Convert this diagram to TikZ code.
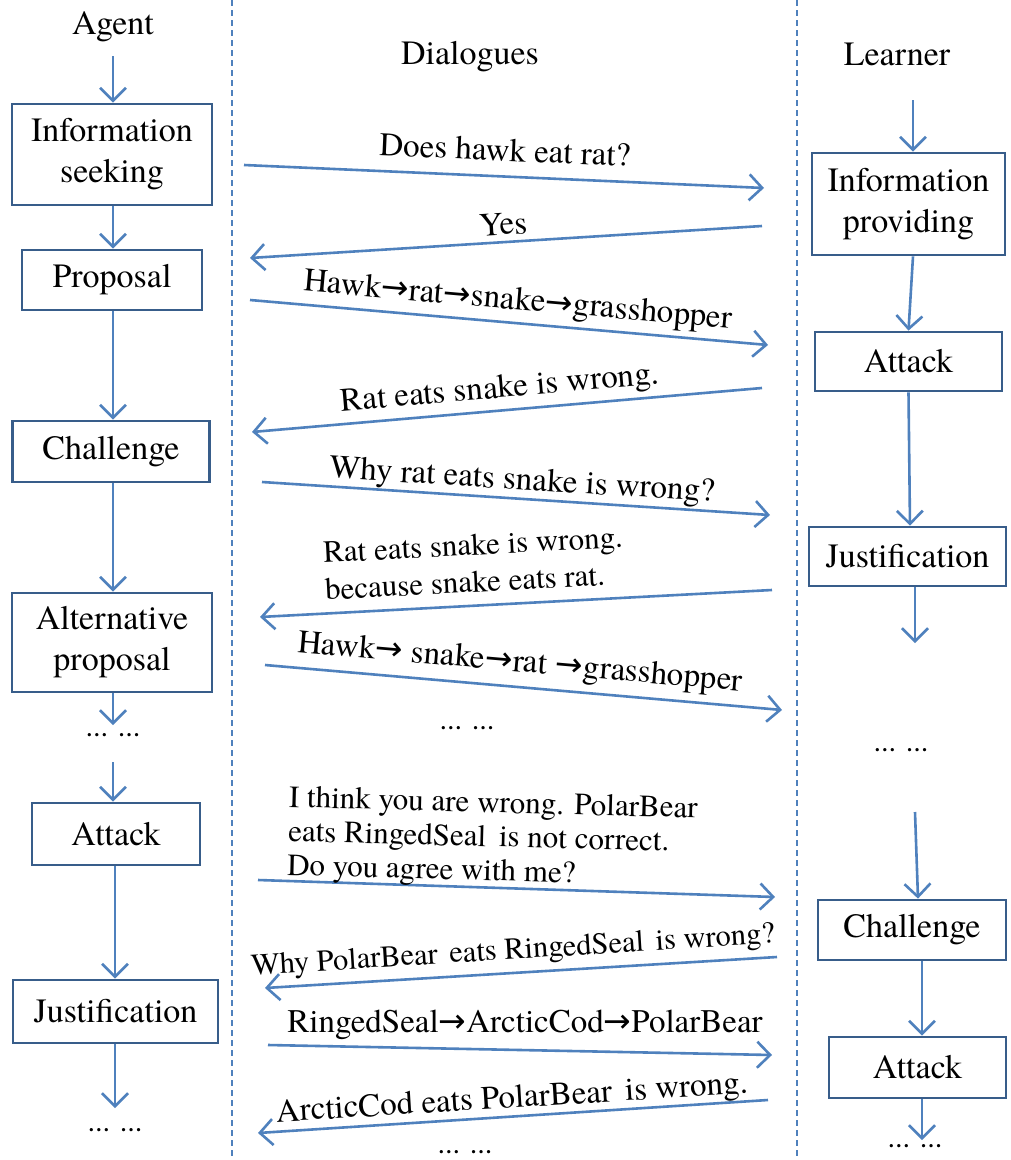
\documentclass[tikz,border=0pt]{standalone}
\usepackage{fontspec}
\setmainfont{TeX Gyre Termes}
\newfontfamily\glyphfont{DejaVu Sans}
\usetikzlibrary{arrows.meta}
\definecolor{flow}{RGB}{79,129,189}
\definecolor{frame}{RGB}{56,93,138}
\newcommand{\nextto}{{\glyphfont\char"2192}}
\begin{document}
\begin{tikzpicture}[x=1pt,y=-1pt,
  stage/.style={draw=frame, line width=2.8pt, fill=white, inner sep=0pt,
    align=center, font=\fontsize{34}{41}\selectfont},
  head/.style={font=\fontsize{34}{38}\selectfont, inner sep=0pt},
  talk/.style={font=\fontsize{33}{36}\selectfont, inner sep=0pt},
  flowarrow/.style={draw=flow, line width=2.6pt,
    -{Straight Barb[length=13pt,width=26pt,line width=2.6pt]}},
  lane/.style={draw=flow, line width=1.2pt, dash pattern=on 6pt off 4pt},
  dots/.style={font=\fontsize{30}{35}\selectfont, inner sep=0pt}]

\useasboundingbox[fill=white] (0,0) rectangle (1010,1160);

% lane separators
\draw[lane] (232,0) -- (232,1160);
\draw[lane] (797,0) -- (797,1160);

% column headings
\node[head] (agent) at (113,27) {Agent};
\node[head] (dial) at (470,57) {Dialogues};
\node[head] (learner) at (897,54) {Learner};

% ---------------- agent column ----------------
\node[stage, minimum width=200, minimum height=101] (is) at (112,154.5) {Information\\seeking};
\node[stage, minimum width=180, minimum height=60] (pr) at (112,280) {Proposal};
\node[stage, minimum width=197, minimum height=61] (cl) at (111,451.5) {Challenge};
\node[stage, minimum width=200, minimum height=99] (alt) at (112,642.5) {Alternative\\proposal};
\node[dots] (ad1) at (113,735) {... ...};
\node[stage, minimum width=168, minimum height=62] (aat) at (116,834) {Attack};
\node[stage, minimum width=205, minimum height=63] (aju) at (115.5,1011.5) {Justification};
\node[dots] (ad2) at (115,1130) {... ...};

\coordinate (a0) at (113,56);
\coordinate (a1) at (113,725);
\coordinate (a2) at (113,762);
\coordinate (a3) at (115,1108);

\draw[flowarrow] (a0) -- (a0 |- is.north);
\draw[flowarrow] (is.south -| a0) -- (a0 |- pr.north);
\draw[flowarrow] (pr.south -| a0) -- (a0 |- cl.north);
\draw[flowarrow] (cl.south -| a0) -- (a0 |- alt.north);
\draw[flowarrow] (alt.south -| a0) -- (a1);
\draw[flowarrow] (a2) -- (a2 |- aat.north);
\draw[flowarrow] (aat.south -| a3) -- (a3 |- aju.north);
\draw[flowarrow] (aju.south -| a3) -- (a3);

% ---------------- learner column ----------------
\node[stage, minimum width=193, minimum height=102] (ip) at (908.5,204) {Information\\providing};
\node[stage, minimum width=187, minimum height=59] (lat1) at (908.5,361.5) {Attack};
\node[stage, minimum width=197, minimum height=59] (lju) at (907.5,556.5) {Justification};
\node[dots] (ld1) at (901,750) {... ...};
\node[stage, minimum width=188, minimum height=60] (lch) at (912,930) {Challenge};
\node[stage, minimum width=177, minimum height=61] (lat2) at (917.5,1067.5) {Attack};
\node[dots] (ld2) at (915,1146) {... ...};

\coordinate (l0) at (913,100);
\coordinate (l1) at (915,643);
\coordinate (l2) at (915,812);
\coordinate (l3) at (922,1140);

\draw[flowarrow] (l0) -- (l0 |- ip.north);
\draw[flowarrow] (ip.south -| l0) -- (lat1.north);
\draw[flowarrow] (lat1.south) -- (lju.north -| 910,0);
\draw[flowarrow] (lju.south -| l1) -- (l1);
\draw[flowarrow] (l2) -- (lch.north -| 918,0);
\draw[flowarrow] (lch.south -| l3) -- (l3 |- lat2.north);
\draw[flowarrow] (lat2.south -| l3) -- (l3);

% ---------------- dialogue messages ----------------
\coordinate (m1s) at (244,165);  \coordinate (m1e) at (764,188);
\coordinate (m2s) at (762,226);  \coordinate (m2e) at (250,258);
\coordinate (m3s) at (250,300);  \coordinate (m3e) at (768,345);
\coordinate (m4s) at (762,388);  \coordinate (m4e) at (252,432);
\coordinate (m5s) at (262,482);  \coordinate (m5e) at (770,515);
\coordinate (m6s) at (772,590);  \coordinate (m6e) at (260,617);
\coordinate (m7s) at (265,665);  \coordinate (m7e) at (782,710);
\coordinate (m8s) at (258,880);  \coordinate (m8e) at (775,897);
\coordinate (m9s) at (777,957);  \coordinate (m9e) at (265,988);
\coordinate (m10s) at (268,1045); \coordinate (m10e) at (772,1055);
\coordinate (m11s) at (768,1100); \coordinate (m11e) at (258,1133);

\foreach \m in {1,...,11}{\draw[flowarrow] (m\m s) -- (m\m e);}

\node[talk, rotate=-2.5] (t1) at (505,150) {Does hawk eat rat?};
\node[talk, rotate=3.5] (t2) at (503,224) {Yes};
\node[talk, rotate=-5] (t3) at (518,302) {Hawk\nextto rat\nextto snake\nextto grasshopper};
\node[talk, rotate=5] (t4) at (500,390) {Rat eats snake is wrong.};
\node[talk, rotate=-3.5] (t5) at (522,482) {Why rat eats snake is wrong?};
\node[talk, rotate=3, align=left, anchor=west, font=\fontsize{31}{37}\selectfont] (t6) at (324,571) {Rat eats snake is wrong.\\because snake eats rat.};
\node[talk, rotate=-5] (t7) at (520,664) {Hawk\nextto{} snake\nextto rat \nextto grasshopper};
\node[dots] (md1) at (467,728) {... ...};
\node[talk, rotate=-1.5, align=left, anchor=west, font=\fontsize{31}{34}\selectfont] (t8) at (288,834) {I think you are wrong. PolarBear\\eats RingedSeal\hspace{5pt} is not correct.\\Do you agree with me?};
\node[talk, rotate=3.5, font=\fontsize{30.5}{36}\selectfont] (t9) at (513,952) {Why PolarBear\hspace{4pt} eats RingedSeal\hspace{4pt} is wrong?};
\node[talk] (t10) at (525,1025) {RingedSeal\nextto ArcticCod\nextto PolarBear};
\node[talk, rotate=3.5] (t11) at (512,1100) {ArcticCod eats PolarBear\hspace{5pt} is wrong.};
\node[dots] (md2) at (465,1152) {... ...};

\end{tikzpicture}
\end{document}
